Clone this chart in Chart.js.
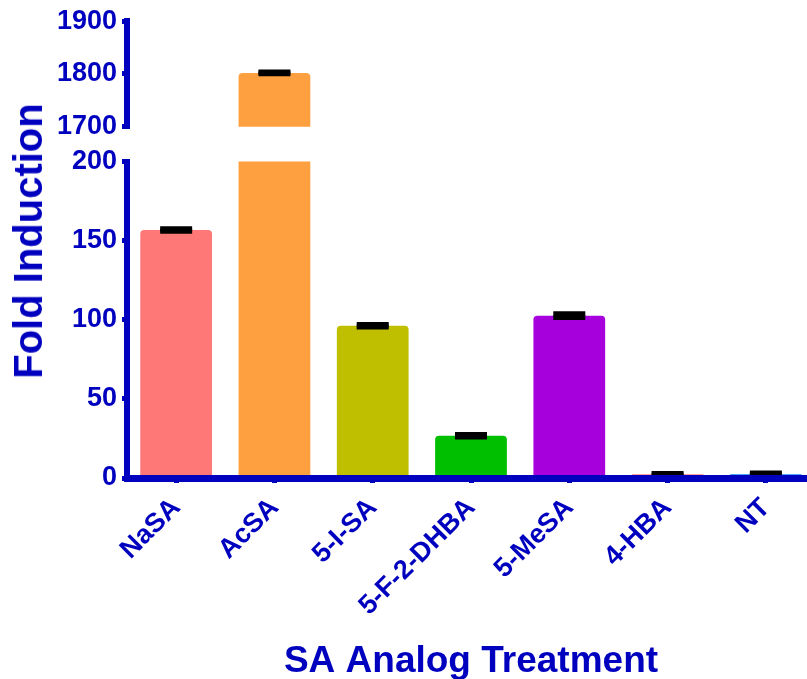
<!DOCTYPE html>
<html>
<head>
<meta charset="utf-8">
<script src="https://cdn.jsdelivr.net/npm/chart.js@4.4.1/dist/chart.umd.min.js"></script>
<style>
  html, body { margin: 0; padding: 0; background: #ffffff; overflow: hidden; }
  #wrap { position: relative; width: 807px; height: 679px; overflow: hidden; background: #ffffff; }
  #wrap canvas { position: absolute; left: 0; }
  #ytitle {
    position: absolute; left: 28px; top: 241px;
    transform: translate(-50%, -50%) rotate(-90deg);
    white-space: nowrap; font: bold 40px "Liberation Sans", Arial, sans-serif;
    color: #0000BF; line-height: 1;
  }
</style>
</head>
<body>
<div id="wrap">
  <canvas id="lower" width="815" height="684" style="top:0"></canvas>
  <canvas id="upper" width="815" height="150" style="top:0"></canvas>
  <div id="ytitle">Fold Induction</div>
</div>
<script>
const categories = ['NaSA', 'AcSA', '5-I-SA', '5-F-2-DHBA', '5-MeSA', '4-HBA', 'NT'];
const foldInduction = [156.7, 1802, 96.2, 26.7, 102.6, 2.3, 2.6];
const errorSEM = [0.8, 1.5, 0.8, 0.8, 1.2, 0.5, 0.5];
const barColors = ['#FF7878', '#FFA040', '#BFBF00', '#00BF00', '#A600DD', '#FF8080', '#4DA6FF'];
const lowerTicks = [0, 50, 100, 150, 200];
const upperTicks = [1700, 1800, 1900];
const xTitle = 'SA Analog Treatment';

const AXIS = '#0000BF';
const FAMILY = '"Liberation Sans", Arial, sans-serif';

const errorBarPlugin = {
  id: 'errorBars',
  afterDatasetsDraw(chart) {
    const ctx = chart.ctx;
    const meta = chart.getDatasetMeta(0);
    const y = chart.scales.y;
    const a = chart.chartArea;
    ctx.save();
    ctx.beginPath();
    ctx.rect(a.left, a.top, a.right - a.left, a.bottom - a.top);
    ctx.clip();
    ctx.strokeStyle = '#000000';
    ctx.lineWidth = 5;
    ctx.lineCap = 'butt';
    meta.data.forEach((bar, i) => {
      const v = foldInduction[i], e = errorSEM[i];
      const yHi = y.getPixelForValue(v + e);
      const yLo = y.getPixelForValue(v - e);
      const x = bar.x;
      ctx.beginPath(); ctx.moveTo(x, yLo); ctx.lineTo(x, yHi); ctx.stroke();
      [yHi, yLo].forEach(py => {
        ctx.beginPath(); ctx.moveTo(x - 16, py); ctx.lineTo(x + 16, py); ctx.stroke();
      });
    });
    ctx.restore();
  }
};

function dataset() {
  return {
    data: foldInduction,
    backgroundColor: barColors,
    borderWidth: 0,
    borderRadius: 4,
    categoryPercentage: 1,
    barPercentage: 0.73
  };
}

function yScale(ticksArr) {
  return {
    min: ticksArr[0],
    max: ticksArr[ticksArr.length - 1],
    afterBuildTicks: s => { s.ticks = ticksArr.map(v => ({ value: v })); },
    grid: { display: true, drawOnChartArea: false, drawTicks: true, tickLength: 5, lineWidth: 5, color: AXIS },
    border: { display: true, color: AXIS, width: 6, z: 1 },
    ticks: { color: AXIS, padding: 5, font: { family: FAMILY, weight: 'bold', size: 27 },
             callback: v => String(v) },
    afterFit: s => { s.width = 127; }
  };
}

new Chart(document.getElementById('lower'), {
  type: 'bar',
  data: { labels: categories, datasets: [dataset()] },
  options: {
    responsive: false,
    animation: false,
    layout: { padding: { top: 161.5, left: 0, right: 0, bottom: 0 } },
    plugins: { legend: { display: false }, tooltip: { enabled: false } },
    scales: {
      x: {
        offset: true,
        grid: { display: true, offset: false, drawOnChartArea: false, drawTicks: true, tickLength: 5, lineWidth: 5, color: AXIS },
        border: { display: true, color: AXIS, width: 7, z: 1 },
        ticks: { color: AXIS, autoSkip: false, minRotation: 45, maxRotation: 45, padding: 9,
                 font: { family: FAMILY, weight: 'bold', size: 27 } },
        title: { display: true, text: xTitle, color: AXIS, padding: { top: 0, bottom: 0 },
                 font: { family: FAMILY, weight: 'bold', size: 37 } },
        afterFit: s => { s.height = 206; }
      },
      y: yScale(lowerTicks)
    }
  },
  plugins: [errorBarPlugin]
});

new Chart(document.getElementById('upper'), {
  type: 'bar',
  data: { labels: categories, datasets: [dataset()] },
  options: {
    responsive: false,
    animation: false,
    layout: { padding: { top: 18.5, left: 0, right: 0, bottom: 23.3 } },
    plugins: { legend: { display: false }, tooltip: { enabled: false } },
    scales: {
      x: { display: false, offset: true },
      y: yScale(upperTicks)
    }
  },
  plugins: [errorBarPlugin]
});
</script>
</body>
</html>
